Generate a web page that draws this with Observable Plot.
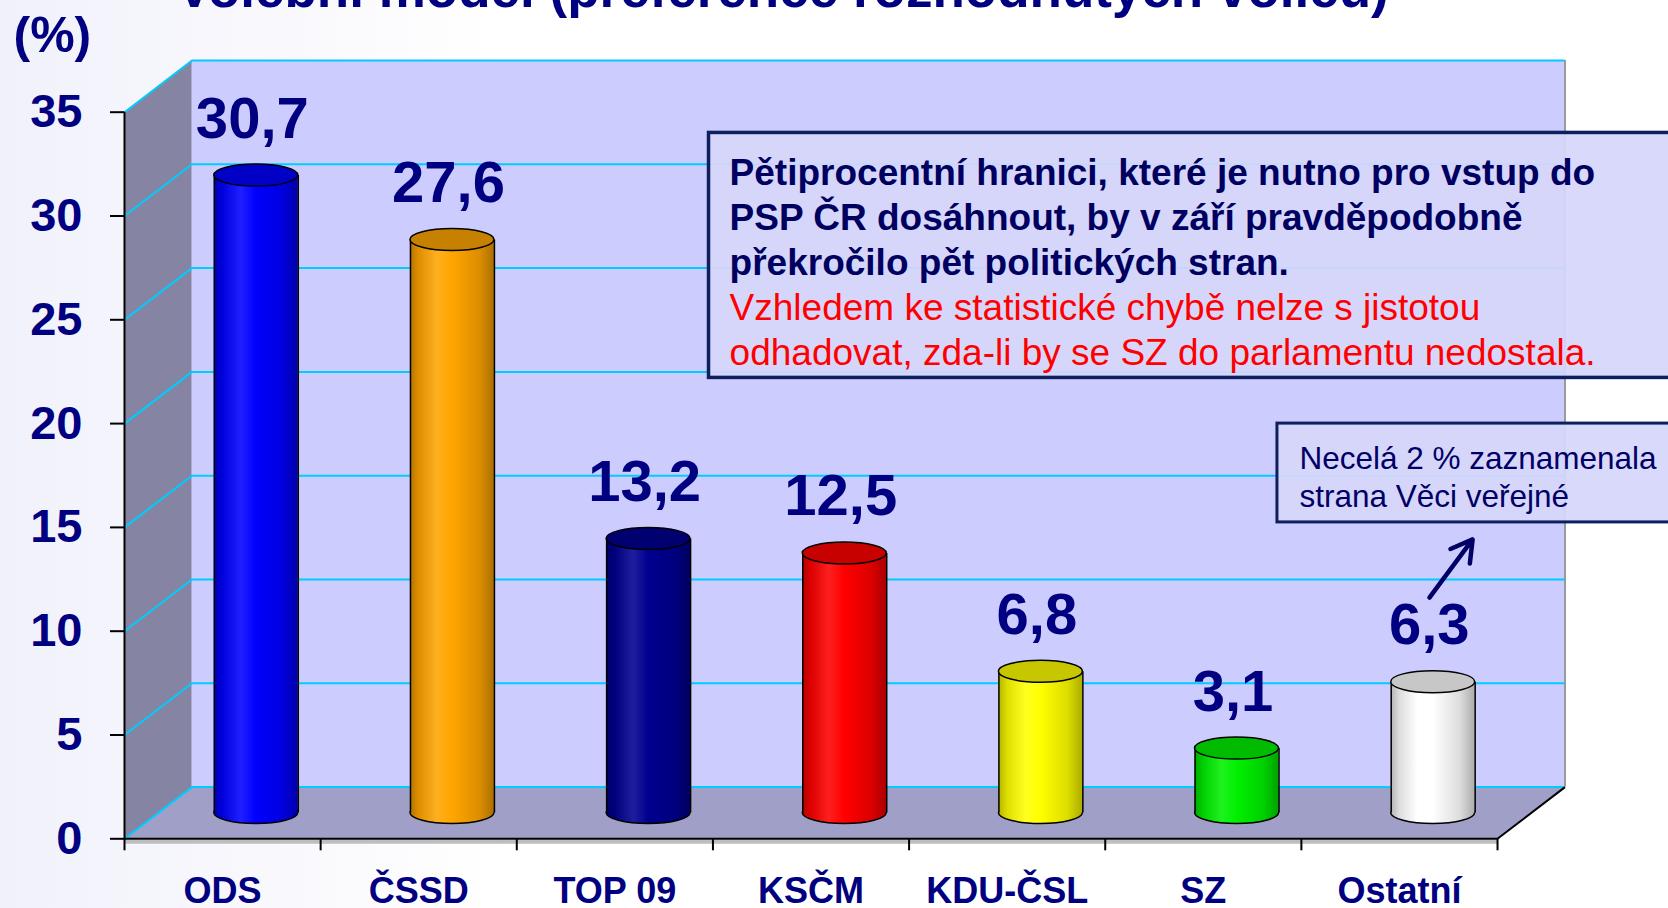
<!DOCTYPE html>
<html><head><meta charset="utf-8">
<script src="https://cdn.jsdelivr.net/npm/d3@7"></script>
<script src="https://cdn.jsdelivr.net/npm/@observablehq/plot@0.6"></script>
<style>
html,body{margin:0;padding:0;width:1668px;height:908px;overflow:hidden;background:linear-gradient(to right,#F1F1FB 0%,#FFFFFF 30%);}
#chart{position:absolute;left:0;top:0;}
</style></head>
<body><div id="chart"></div>
<script>
// ---- data ----
const parties = ["ODS", "ČSSD", "TOP 09", "KSČM", "KDU-ČSL", "SZ", "Ostatní"];
const values = [30.7, 27.6, 13.2, 12.5, 6.8, 3.1, 6.3];
const colors = ["#0000FF", "#FFA500", "#000090", "#FF0000", "#FFFF00", "#00F000", "#FFFFFF"];
const yTicks = [0, 5, 10, 15, 20, 25, 30, 35];
const xTicks = [0, 1, 2, 3, 4, 5, 6, 7];
const title = "Volební model (preference rozhodnutých voličů)";
const unitLabel = "(%)";
const note1Bold = ["Pětiprocentní hranici, které je nutno pro vstup do", "PSP ČR dosáhnout, by v září pravděpodobně", "překročilo pět politických stran."];
const note1Red = ["Vzhledem ke statistické chybě nelze s jistotou", "odhadovat, zda-li by se SZ do parlamentu nedostala."];
const note2 = ["Necelá 2 % zaznamenala", "strana Věci veřejné"];

// annotation placement (data units)
const note1Box = {x1: 2.98, x2: 8.6, y1: 22.2, y2: 34.0};
const note1BoldAt = {x: 3.085, y: 33.03};
const note1RedAt = {x: 3.085, y: 26.52};
const note2Box = {x1: 5.878, x2: 8.6, y1: 15.24, y2: 20.0};
const note2At = {x: 5.99, y: 19.11};
const arrowSeg = {x1: 6.653, y1: 11.62, x2: 6.873, y2: 14.42};

// ---- layout ----
const W = 1668, H = 908, ML = 124, MT = 60, MB = 69.7, MR = 103.5;
const N = parties.length, YMAX = 35;
const DX = 0.344, DY = 2.49;   // 3D depth offset
const HW = 0.214, EH = 0.53;   // cylinder half-width, ellipse half-height
const NAVY = "#000080";
const CYAN = "#00CCFF";

const rows = parties.map((p, i) => ({
  party: p, i, value: values[i], color: colors[i],
  c: i + 0.5 + DX / 2,
  grad: `url(#cyl${i})`,
  top: d3.color(colors[i]).darker(0.7).formatHex()
}));

const leftWall = [[0, 0], [0, YMAX], [DX, YMAX + DY], [DX, DY]];
const floor = [[0, 0], [N, 0], [N + DX, DY], [DX, DY]];

const plot = Plot.plot({
  width: W, height: H,
  marginLeft: ML, marginRight: MR, marginTop: MT, marginBottom: MB,
  x: {domain: [0, N + DX], axis: null},
  y: {domain: [0, YMAX + DY], axis: null},
  color: {type: "identity"},
  style: {fontFamily: "'Liberation Sans', Arial, sans-serif", background: "transparent"},
  marks: [
    // walls
    Plot.line(leftWall, {x: d => d[0], y: d => d[1], fill: "#8585A3", stroke: "none"}),
    Plot.line(floor, {x: d => d[0], y: d => d[1], fill: "#9F9FC7", stroke: "none"}),
    Plot.rect([0], {x1: DX, x2: N + DX, y1: DY, y2: YMAX + DY, fill: "#CCCCFF"}),
    Plot.ruleX([N + DX], {y1: DY, y2: YMAX + DY, stroke: "#9A9A9A", strokeWidth: 2}),
    // gridlines
    Plot.ruleY(yTicks, {y: d => d + DY, x1: DX, x2: N + DX, stroke: CYAN, strokeWidth: 2}),
    Plot.link(yTicks, {x1: 0, y1: d => d, x2: DX, y2: d => d + DY, stroke: CYAN, strokeWidth: 2}),
    // axes
    Plot.ruleY([0], {x1: 0, x2: N, dy: 3, stroke: "#BEBEBE", strokeWidth: 4}),
    Plot.ruleY([0], {x1: 0, x2: N, stroke: "black", strokeWidth: 2}),
    Plot.link([0], {x1: N, y1: 0, x2: N + DX, y2: DY, stroke: "black", strokeWidth: 2}),
    Plot.ruleX([0], {y1: 0, y2: YMAX, stroke: "black", strokeWidth: 2}),
    Plot.axisY(yTicks, {anchor: "left", tickSize: 14, strokeWidth: 2, tickFormat: () => "", label: null, color: "black"}),
    Plot.axisX(xTicks, {anchor: "bottom", tickSize: 12, strokeWidth: 2, tickFormat: () => "", label: null, color: "black"}),
    Plot.text(yTicks, {x: 0, y: d => d, text: d => String(d), dx: -42, textAnchor: "end", lineAnchor: "middle", fontSize: 47, fontWeight: "bold", fill: NAVY}),
    Plot.text(rows, {x: d => d.i + 0.5, y: 0, text: "party", dy: 64, lineAnchor: "bottom", fontSize: 36, fontWeight: "bold", fill: NAVY}),
    // cylinders
    Plot.rect(rows, {x1: d => d.c - HW, x2: d => d.c + HW, y1: DY / 2 - EH, y2: DY / 2 + EH, rx: 200, ry: 200, fill: "grad", stroke: "black", strokeWidth: 1.5, ariaDescription: "ellipse"}),
    Plot.rect(rows, {x1: d => d.c - HW, x2: d => d.c + HW, y1: DY / 2, y2: d => d.value + DY / 2, fill: "grad"}),
    Plot.ruleX(rows, {x: d => d.c - HW, y1: DY / 2, y2: d => d.value + DY / 2, stroke: "black", strokeWidth: 1.5}),
    Plot.ruleX(rows, {x: d => d.c + HW, y1: DY / 2, y2: d => d.value + DY / 2, stroke: "black", strokeWidth: 1.5}),
    Plot.rect(rows, {x1: d => d.c - HW, x2: d => d.c + HW, y1: d => d.value + DY / 2 - EH, y2: d => d.value + DY / 2 + EH, rx: 200, ry: 200, fill: "top", stroke: "black", strokeWidth: 1.5, ariaDescription: "ellipse"}),
    // value labels
    Plot.text(rows, {x: "c", y: d => d.value + DY / 2, text: d => d.value.toFixed(1).replace(".", ","), dx: -4, dy: -38, lineAnchor: "bottom", fontSize: 58, fontWeight: "bold", fill: NAVY}),
    // annotations
    Plot.rect([note1Box], {x1: "x1", x2: "x2", y1: "y1", y2: "y2", fill: "#D6D6FB", fillOpacity: 0.93, stroke: "#0D1F5E", strokeWidth: 3.5}),
    Plot.text([note1Bold.join("\n")], {x: note1BoldAt.x, y: note1BoldAt.y, text: d => d, textAnchor: "start", lineAnchor: "top", lineHeight: 1.22, fontSize: 37, fontWeight: "bold", fill: "#000060"}),
    Plot.text([note1Red.join("\n")], {x: note1RedAt.x, y: note1RedAt.y, text: d => d, textAnchor: "start", lineAnchor: "top", lineHeight: 1.22, fontSize: 37, fill: "#FF0000"}),
    Plot.rect([note2Box], {x1: "x1", x2: "x2", y1: "y1", y2: "y2", fill: "#D6D6FB", fillOpacity: 0.93, stroke: "#0D1F5E", strokeWidth: 3}),
    Plot.text([note2.join("\n")], {x: note2At.x, y: note2At.y, text: d => d, textAnchor: "start", lineAnchor: "top", lineHeight: 1.21, fontSize: 31.5, fill: "#000066"}),
    Plot.arrow([arrowSeg], {x1: "x1", y1: "y1", x2: "x2", y2: "y2", stroke: "#000066", strokeWidth: 4.5, headLength: 18}),
    // title & unit
    Plot.text([title], {frameAnchor: "top-left", text: d => d, dx: 52, dy: -54, textAnchor: "start", lineAnchor: "bottom", fontSize: 53, fontWeight: "bold", fill: NAVY}),
    Plot.text([unitLabel], {frameAnchor: "top-left", text: d => d, dx: -111, dy: -9, textAnchor: "start", lineAnchor: "bottom", fontSize: 50, fontWeight: "bold", fill: NAVY})
  ]
});

// gradients for cylinder shading
const defs = d3.select(plot).insert("defs", ":first-child");
colors.forEach((c, i) => {
  const base = d3.color(c);
  const g = defs.append("linearGradient").attr("id", `cyl${i}`)
    .attr("x1", 0).attr("x2", 1).attr("y1", 0).attr("y2", 0);
  const stops = [
    [0, base.darker(1.0)],
    [0.1, base.darker(0.4)],
    [0.32, d3.color(d3.interpolateRgb(c, "#ffffff")(0.12))],
    [0.5, base],
    [0.82, base.darker(0.4)],
    [1, base.darker(1.1)]
  ];
  stops.forEach(([o, col]) => g.append("stop").attr("offset", o).attr("stop-color", col.formatHex()));
});
d3.select(plot).selectAll('g[aria-description="ellipse"] rect').attr("rx", 200).attr("ry", 200);

document.getElementById("chart").append(plot);
</script>
</body></html>
